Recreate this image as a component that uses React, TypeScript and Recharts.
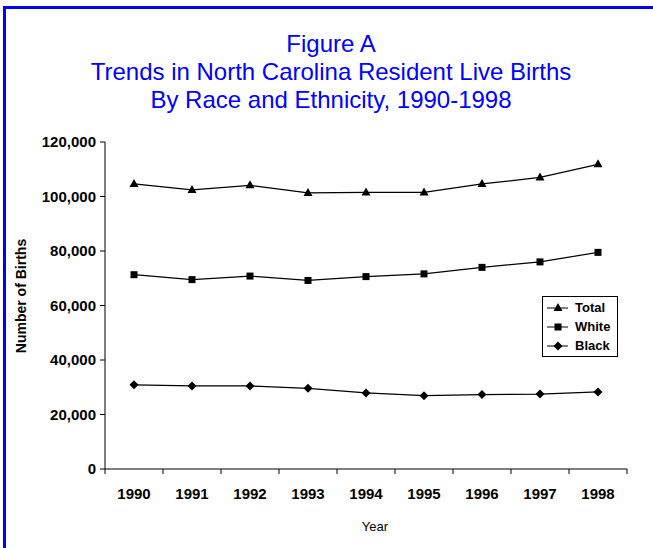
import { LineChart, Line, XAxis, YAxis, Legend } from 'recharts';

const years = ['1990', '1991', '1992', '1993', '1994', '1995', '1996', '1997', '1998'];
const total = [104600, 102400, 104100, 101300, 101500, 101500, 104600, 107000, 111800];
const white = [71300, 69500, 70800, 69200, 70600, 71600, 74000, 76000, 79500];
const black = [30900, 30500, 30500, 29600, 27900, 26900, 27300, 27500, 28300];
const seriesNames = ['Total', 'White', 'Black'];
const yTicks = [0, 20000, 40000, 60000, 80000, 100000, 120000];

const data = years.map((year, i) => ({
  year,
  Total: total[i],
  White: white[i],
  Black: black[i],
}));

const FONT = '"Liberation Sans", Arial, sans-serif';
const HALF_BAND = 29;

const Marker = ({ shape, cx, cy }: { shape: string; cx: number; cy: number }) => {
  if (shape === 'triangle') {
    return <polygon points={`${cx},${cy - 5} ${cx + 4.5},${cy + 3} ${cx - 4.5},${cy + 3}`} fill="#000" />;
  }
  if (shape === 'square') {
    return <rect x={cx - 3.5} y={cy - 3.5} width={7} height={7} fill="#000" />;
  }
  return <polygon points={`${cx},${cy - 4.5} ${cx + 4.5},${cy} ${cx},${cy + 4.5} ${cx - 4.5},${cy}`} fill="#000" />;
};

const shapes: Record<string, string> = { Total: 'triangle', White: 'square', Black: 'diamond' };

const dotFor = (name: string) => (props: any) => (
  <Marker key={`${name}-${props.index}`} shape={shapes[name]} cx={props.cx} cy={props.cy} />
);

const YearTick = (props: any) => {
  const { x, y, payload, index, visibleTicksCount } = props;
  const last = index === visibleTicksCount - 1;
  return (
    <g>
      <line x1={x - HALF_BAND} y1={y} x2={x - HALF_BAND} y2={y + 5} stroke="#000" />
      {last && <line x1={x + HALF_BAND} y1={y} x2={x + HALF_BAND} y2={y + 5} stroke="#000" />}
      <text x={x} y={y + 30} textAnchor="middle" fontSize={15} fontWeight="bold" fontFamily={FONT} fill="#000">
        {payload.value}
      </text>
    </g>
  );
};

const LegendBox = (props: any) => {
  const payload = props.payload || [];
  const items = seriesNames.filter((n) => payload.some((p: any) => p.value === n));
  return (
    <div
      style={{
        border: '1px solid #000',
        background: '#fff',
        width: 74,
        height: 58,
        boxSizing: 'content-box',
        paddingTop: 1,
      }}
    >
      {items.map((name) => (
        <div key={name} style={{ display: 'flex', alignItems: 'center', height: 19, marginLeft: 4 }}>
          <svg width={22} height={12}>
            <line x1={0} y1={6} x2={21} y2={6} stroke="#000" />
            <Marker shape={shapes[name]} cx={11} cy={6} />
          </svg>
          <span style={{ fontFamily: FONT, fontWeight: 'bold', fontSize: 13, marginLeft: 6, color: '#000' }}>
            {name}
          </span>
        </div>
      ))}
    </div>
  );
};

const App = () => {
  return (
    <div style={{ position: 'absolute', left: 0, top: 0, width: 653, height: 548, overflow: 'hidden', background: '#fff' }}>
      <div
        style={{
          position: 'absolute',
          left: 3,
          top: 6,
          width: 720,
          height: 620,
          border: '3px solid #0000ff',
        }}
      />
      <div
        style={{
          position: 'absolute',
          left: 0,
          top: 30,
          width: 662,
          textAlign: 'center',
          color: '#0000ff',
          fontFamily: FONT,
          fontSize: 24,
          lineHeight: '28px',
        }}
      >
        <div>Figure A</div>
        <div>Trends in North Carolina Resident Live Births</div>
        <div>By Race and Ethnicity, 1990-1998</div>
      </div>
      <div
        style={{
          position: 'absolute',
          left: 21,
          top: 296,
          transform: 'translate(-50%, -50%) rotate(-90deg)',
          whiteSpace: 'nowrap',
          fontFamily: FONT,
          fontWeight: 'bold',
          fontSize: 14,
          color: '#000',
        }}
      >
        Number of Births
      </div>
      <div
        style={{
          position: 'absolute',
          left: 375,
          top: 526,
          transform: 'translate(-50%, -50%)',
          fontFamily: FONT,
          fontSize: 13,
          color: '#000',
        }}
      >
        Year
      </div>
      <div style={{ position: 'absolute', left: 0, top: 0 }}>
        <LineChart width={653} height={548} data={data} margin={{ top: 142, right: 26, bottom: 49, left: 15 }}>
          <XAxis
            dataKey="year"
            padding={{ left: HALF_BAND, right: HALF_BAND }}
            height={30}
            axisLine={{ stroke: '#000' }}
            tickLine={false}
            tickSize={0}
            tickMargin={0}
            tick={<YearTick />}
            interval={0}
          />
          <YAxis
            width={90}
            domain={[0, 120000]}
            ticks={yTicks}
            interval={0}
            axisLine={{ stroke: '#000' }}
            tickLine={{ stroke: '#000' }}
            tickSize={5}
            tickMargin={4}
            tickFormatter={(v: number) => v.toLocaleString('en-US')}
            tick={{ fontSize: 15, fontWeight: 'bold', fill: '#000', fontFamily: FONT }}
          />
          <Legend
            layout="vertical"
            align="center"
            verticalAlign="middle"
            content={<LegendBox />}
            wrapperStyle={{ position: 'absolute', left: 542, top: 296, width: 76, height: 60 }}
          />
          <Line type="linear" dataKey="Total" stroke="#000" strokeWidth={1.2} dot={dotFor('Total')} isAnimationActive={false} />
          <Line type="linear" dataKey="White" stroke="#000" strokeWidth={1.2} dot={dotFor('White')} isAnimationActive={false} />
          <Line type="linear" dataKey="Black" stroke="#000" strokeWidth={1.2} dot={dotFor('Black')} isAnimationActive={false} />
        </LineChart>
      </div>
    </div>
  );
};

export default App;
